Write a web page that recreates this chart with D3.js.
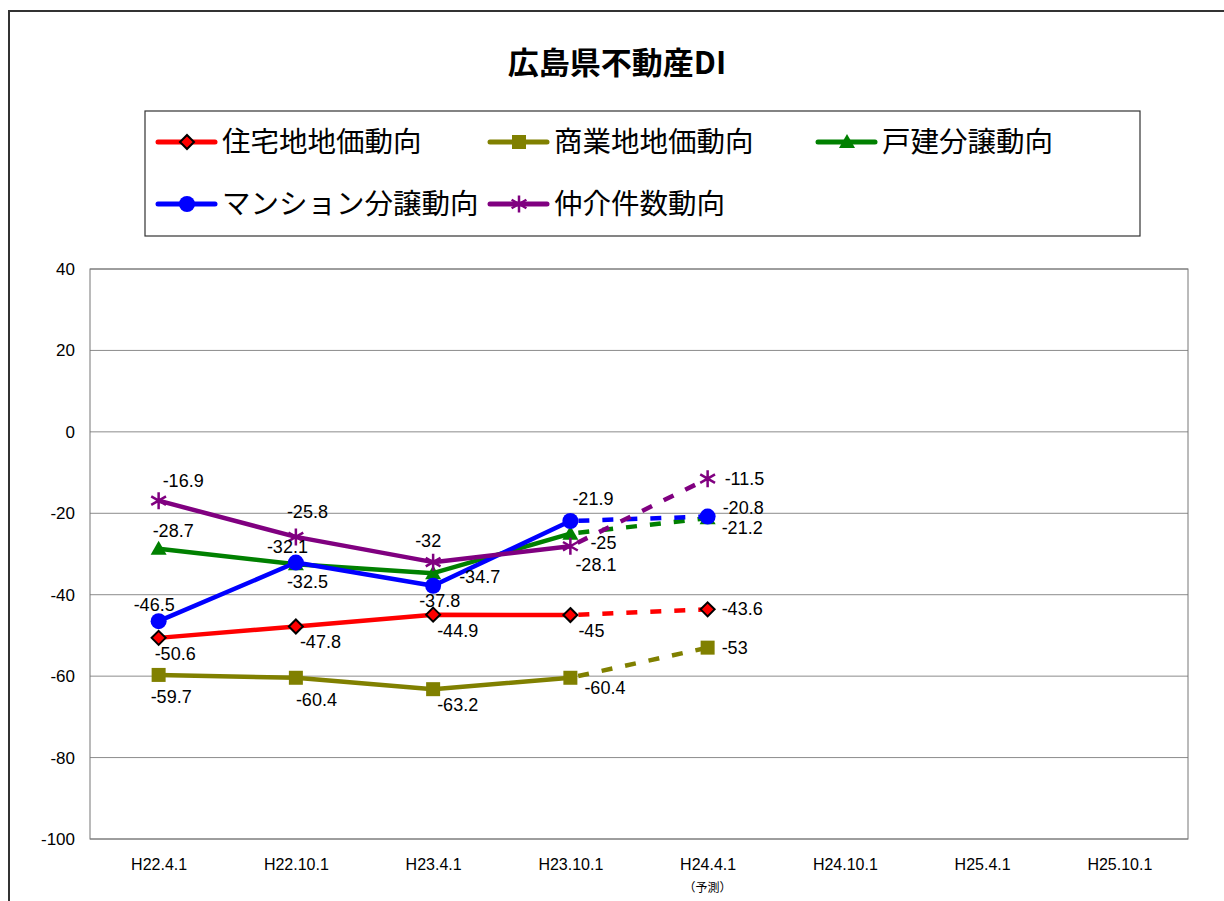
<!DOCTYPE html>
<html><head><meta charset="utf-8">
<script src="https://cdn.jsdelivr.net/npm/d3@7"></script>
<style>body{margin:0;background:#fff;} svg{display:block;}</style>
</head><body>
<svg id="c" width="1224" height="901"></svg>
<script>
const categories = ["H22.4.1","H22.10.1","H23.4.1","H23.10.1","H24.4.1","H24.10.1","H25.4.1","H25.10.1"];
const yTicks = [40,20,0,-20,-40,-60,-80,-100];
const seriesNames = ["住宅地地価動向","商業地地価動向","戸建分譲動向","マンション分譲動向","仲介件数動向"];
const residential = [-50.6,-47.8,-44.9,-45,-43.6];
const commercial = [-59.7,-60.4,-63.2,-60.4,-53];
const detached = [-28.7,-32.5,-34.7,-25,-21.2];
const condo = [-46.5,-32.1,-37.8,-21.9,-20.8];
const brokerage = [-16.9,-25.8,-32,-28.1,-11.5];
const forecastIndex = 4; // last point is forecast (dashed)

const colors = ["#ff0000","#808000","#008000","#0000ff","#800080"];
const symbols = ["diamond","square","triangle","circle","asterisk"];
const values = [residential, commercial, detached, condo, brokerage];
// label offsets (dx, dy) relative to point, per series per point
const labelOffsets = [
  [[-4,22],[4,22],[4,22],[8,22],[14,6]],
  [[-8,28],[0,28],[4,22],[14,16],[14,6]],
  [[-6,-12],[-9,24],[26,10],[20,15],[14,16]],
  [[-25,-10],[-29,-10],[-14,21],[2,-16],[15,-3]],
  [[4,-14],[-9,-19],[-18,-15],[5,25],[17,6]]
];

const svg = d3.select("#c");
const font = "'Liberation Sans', Arial, sans-serif";
const cjk = "'Noto Sans CJK JP', sans-serif";
const fmt = v => String(v);

// outer border
svg.append("path").attr("d","M9,901 V11 H1224").attr("fill","none").attr("stroke","#333").attr("stroke-width",2);

// title
svg.append("text").attr("x",617).attr("y",74).attr("text-anchor","middle")
  .attr("font-family","'Noto Sans CJK JP', 'Liberation Sans', sans-serif").attr("font-weight","bold").attr("font-size",31)
  .attr("fill","#000").text("広島県不動産DI");

const m = {left:90, right:1188, top:269, bottom:839};
const x = d3.scalePoint().domain(categories).range([m.left, m.right]).padding(0.5);
const y = d3.scaleLinear().domain([-100,40]).range([m.bottom, m.top]);

// gridlines
svg.append("g").selectAll("line").data(yTicks).join("line")
  .attr("x1",m.left).attr("x2",m.right).attr("y1",d=>y(d)).attr("y2",d=>y(d))
  .attr("stroke","#8c8c8c").attr("stroke-width",1);
svg.append("rect").attr("x",m.left).attr("y",m.top).attr("width",m.right-m.left).attr("height",m.bottom-m.top)
  .attr("fill","none").attr("stroke","#777").attr("stroke-width",1);

// y axis
const yAxis = d3.axisLeft(y).tickValues(yTicks).tickFormat(fmt).tickSize(0).tickPadding(15);
const yg = svg.append("g").attr("transform",`translate(${m.left},0)`).call(yAxis);
yg.select(".domain").remove();
yg.selectAll("text").attr("font-family",font).attr("font-size",17).attr("fill","#000");

// x axis
const xAxis = d3.axisBottom(x).tickSize(0).tickPadding(20);
const xg = svg.append("g").attr("transform",`translate(0,${m.bottom})`).call(xAxis);
xg.select(".domain").remove();
xg.selectAll("text").attr("font-family",font).attr("font-size",16).attr("fill","#000");
svg.append("text").attr("x",x(categories[forecastIndex])).attr("y",892).attr("text-anchor","middle")
  .attr("font-family",cjk).attr("font-size",12).attr("fill","#000").text("（予測）");

function drawMarker(g, type, color, cx, cy) {
  if (type==="diamond") {
    g.append("path").attr("d",`M${cx},${cy-7}L${cx+7},${cy}L${cx},${cy+7}L${cx-7},${cy}Z`)
      .attr("fill","#ff0000").attr("stroke","#000").attr("stroke-width",2);
  } else if (type==="square") {
    g.append("rect").attr("x",cx-7).attr("y",cy-7).attr("width",14).attr("height",14).attr("fill",color);
  } else if (type==="triangle") {
    g.append("path").attr("d",`M${cx},${cy-8}L${cx+8},${cy+6}L${cx-8},${cy+6}Z`).attr("fill",color);
  } else if (type==="circle") {
    g.append("circle").attr("cx",cx).attr("cy",cy).attr("r",8).attr("fill",color);
  } else if (type==="asterisk") {
    const r=8.5;
    const d = `M${cx},${cy-r}V${cy+r}M${cx-r*0.87},${cy-r*0.5}L${cx+r*0.87},${cy+r*0.5}M${cx-r*0.87},${cy+r*0.5}L${cx+r*0.87},${cy-r*0.5}`;
    g.append("path").attr("d",d).attr("stroke",color).attr("stroke-width",2.5).attr("fill","none");
  }
}

const line = d3.line().x(d=>x(d.c)).y(d=>y(d.v));
values.forEach((vals,i)=>{
  const pts = vals.map((v,j)=>({c:categories[j], v}));
  const g = svg.append("g");
  g.append("path").datum(pts.slice(0,forecastIndex)).attr("d",line)
    .attr("fill","none").attr("stroke",colors[i]).attr("stroke-width",4.5).attr("stroke-linejoin","round");
  g.append("path").datum(pts.slice(forecastIndex-1, forecastIndex+1)).attr("d",line)
    .attr("fill","none").attr("stroke",colors[i]).attr("stroke-width",4.5).attr("stroke-dasharray","11,13").attr("stroke-dashoffset",-8);
});
values.forEach((vals,i)=>{
  const g = svg.append("g");
  vals.forEach((v,j)=>drawMarker(g, symbols[i], colors[i], x(categories[j]), y(v)));
});
values.forEach((vals,i)=>{
  const g = svg.append("g");
  vals.forEach((v,j)=>{
    const [dx,dy] = labelOffsets[i][j];
    g.append("text").attr("x",x(categories[j])+dx).attr("y",y(v)+dy)
      .attr("font-family",font).attr("font-size",18).attr("fill","#000").text(fmt(v));
  });
});

// legend
svg.append("rect").attr("x",145).attr("y",111).attr("width",995).attr("height",125)
  .attr("fill","#fff").attr("stroke","#333").attr("stroke-width",1.2);
const legendPos = [[158,142],[490,142],[818,142],[158,204],[490,204]];
seriesNames.forEach((name,i)=>{
  const [lx,ly] = legendPos[i];
  const g = svg.append("g");
  g.append("line").attr("x1",lx).attr("x2",lx+57).attr("y1",ly).attr("y2",ly)
    .attr("stroke",colors[i]).attr("stroke-width",5).attr("stroke-linecap","round");
  drawMarker(g, symbols[i], colors[i], lx+29, ly);
  g.append("text").attr("x",lx+64).attr("y",ly+10).attr("font-family",cjk).attr("font-size",28.5)
    .attr("fill","#000").text(name);
});
</script>
</body></html>
